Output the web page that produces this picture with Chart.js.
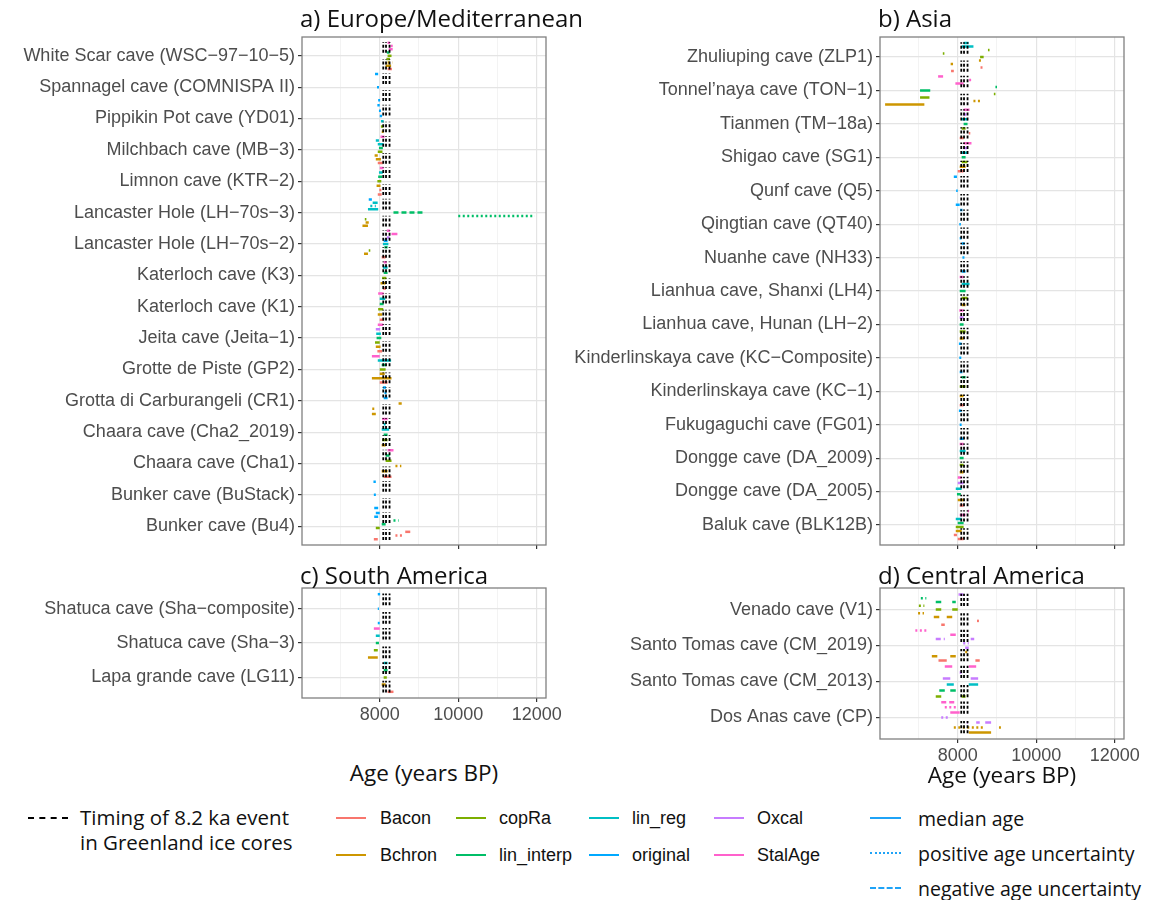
<!DOCTYPE html>
<html>
<head>
<meta charset="utf-8">
<script src="https://cdn.jsdelivr.net/npm/chart.js@4.4.1/dist/chart.umd.min.js"></script>
<style>
  body { margin: 0; background: #fff; }
  #page { position: relative; width: 1160px; height: 900px; overflow: hidden; font-family: "Liberation Sans", Arial, sans-serif; }
  canvas { position: absolute; }
  .title { position: absolute; font-family: "Open Sans", sans-serif; font-size: 24px; line-height: 26px; color: #111; white-space: nowrap; }
  .axis-title { position: absolute; font-family: "Open Sans", sans-serif; font-size: 22.5px; line-height: 26px; color: #111; white-space: nowrap; transform: translateX(-50%); }
  .key { position: absolute; height: 0; }
  .key-text { position: absolute; white-space: nowrap; color: #111; }
</style>
</head>
<body>
<div id="page">
  <canvas id="europe" width="580" height="560" style="left:0;top:0;width:580px;height:560px"></canvas>
  <canvas id="asia" width="600" height="560" style="left:560px;top:0;width:600px;height:560px"></canvas>
  <canvas id="southAmerica" width="580" height="190" style="left:0;top:560px;width:580px;height:190px"></canvas>
  <canvas id="centralAmerica" width="600" height="220" style="left:560px;top:560px;width:600px;height:220px"></canvas>

  <div class="title" style="left:300px;top:5px">a) Europe/Mediterranean</div>
  <div class="title" style="left:878px;top:5px">b) Asia</div>
  <div class="title" style="left:300px;top:562px">c) South America</div>
  <div class="title" style="left:878px;top:562px">d) Central America</div>

  <div class="axis-title" style="left:424px;top:760px">Age (years BP)</div>
  <div class="axis-title" style="left:1002px;top:762px">Age (years BP)</div>

  <div id="legend"></div>
</div>

<script>
// age models (legend order) and their ggplot hue colours
const methods = ['Bacon', 'Bchron', 'copRa', 'lin_interp', 'lin_reg', 'original', 'Oxcal', 'StalAge'];
const methodColors = ['#F8766D', '#CD9600', '#7CAE00', '#00BE67', '#00BFC4', '#00A9FF', '#C77CFF', '#FF61CC'];

// line types: m = median age, p = positive age uncertainty, n = negative age uncertainty
const lineTypes = ['m', 'p', 'n'];
const lineTypeLabels = ['median age', 'positive age uncertainty', 'negative age uncertainty'];

// timing of the 8.2 ka event in Greenland ice cores (years BP)
const eventAges = [8090, 8160, 8250];

const ageMin = 6020;
const ageMax = 12235;
const ageBreaks = [8000, 10000, 12000];
const ageMinorBreaks = [7000, 9000, 11000];

// caves listed top to bottom as they appear
const europeCaves = [
  'White Scar cave (WSC\u221297\u221210\u22125)', 'Spannagel cave (COMNISPA II)', 'Pippikin Pot cave (YD01)',
  'Milchbach cave (MB\u22123)', 'Limnon cave (KTR\u22122)', 'Lancaster Hole (LH\u221270s\u22123)',
  'Lancaster Hole (LH\u221270s\u22122)', 'Katerloch cave (K3)', 'Katerloch cave (K1)', 'Jeita cave (Jeita\u22121)',
  'Grotte de Piste (GP2)', 'Grotta di Carburangeli (CR1)', 'Chaara cave (Cha2_2019)', 'Chaara cave (Cha1)',
  'Bunker cave (BuStack)', 'Bunker cave (Bu4)'
];
const asiaCaves = [
  'Zhuliuping cave (ZLP1)', 'Tonnel\u2019naya cave (TON\u22121)', 'Tianmen (TM\u221218a)', 'Shigao cave (SG1)',
  'Qunf cave (Q5)', 'Qingtian cave (QT40)', 'Nuanhe cave (NH33)', 'Lianhua cave, Shanxi (LH4)',
  'Lianhua cave, Hunan (LH\u22122)', 'Kinderlinskaya cave (KC\u2212Composite)', 'Kinderlinskaya cave (KC\u22121)',
  'Fukugaguchi cave (FG01)', 'Dongge cave (DA_2009)', 'Dongge cave (DA_2005)', 'Baluk cave (BLK12B)'
];
const southAmericaCaves = ['Shatuca cave (Sha\u2212composite)', 'Shatuca cave (Sha\u22123)', 'Lapa grande cave (LG11)'];
const centralAmericaCaves = ['Venado cave (V1)', 'Santo Tomas cave (CM_2019)', 'Santo Tomas cave (CM_2013)', 'Dos Anas cave (CP)'];

// event segments: [cave index, age model, line type, from age, to age]
const europeMarks = [
  [0, 'StalAge', 'm', 8230, 8330], [0, 'StalAge', 'p', 8280, 8380], [0, 'StalAge', 'n', 8200, 8260],
  [0, 'lin_interp', 'm', 8180, 8250], [0, 'copRa', 'm', 8170, 8260], [0, 'copRa', 'n', 8200, 8300],
  [0, 'Bchron', 'm', 8150, 8290], [0, 'Bchron', 'p', 8200, 8320], [0, 'Bacon', 'm', 8200, 8310],
  [1, 'original', 'm', 7960, 8010], [1, 'original', 'p', 7930, 7990], [1, 'original', 'n', 7880, 7960],
  [2, 'original', 'm', 8000, 8060], [2, 'original', 'p', 7980, 8040], [2, 'original', 'n', 7940, 8000],
  [2, 'lin_reg', 'm', 8030, 8100], [2, 'copRa', 'm', 8030, 8090], [2, 'Bchron', 'm', 8050, 8100],
  [3, 'StalAge', 'm', 8020, 8120], [3, 'lin_reg', 'm', 7950, 8100], [3, 'lin_reg', 'n', 7900, 7980],
  [3, 'lin_interp', 'm', 7980, 8080], [3, 'copRa', 'm', 7950, 8070], [3, 'Bchron', 'm', 7900, 8030],
  [3, 'Bchron', 'n', 7870, 7950], [3, 'Bacon', 'm', 7950, 8080],
  [4, 'StalAge', 'm', 8000, 8100], [4, 'lin_reg', 'm', 7980, 8080], [4, 'lin_interp', 'm', 7960, 8060],
  [4, 'copRa', 'm', 7940, 8040], [4, 'Bchron', 'm', 7920, 8020], [4, 'Bacon', 'm', 7950, 8050],
  [4, 'Bacon', 'p', 7990, 8060],
  [5, 'lin_reg', 'm', 7700, 7960], [5, 'lin_reg', 'p', 7760, 7900], [5, 'lin_reg', 'n', 7820, 7980],
  [5, 'original', 'm', 7720, 7800], [5, 'lin_interp', 'n', 8350, 9100], [5, 'lin_interp', 'p', 10000, 11950],
  [5, 'copRa', 'm', 7620, 7660], [5, 'Bchron', 'm', 7560, 7700], [5, 'Bchron', 'n', 7640, 7720],
  [6, 'StalAge', 'm', 8300, 8450], [6, 'StalAge', 'n', 8180, 8260], [6, 'Oxcal', 'm', 8180, 8250],
  [6, 'original', 'm', 8100, 8200], [6, 'lin_reg', 'm', 8080, 8220], [6, 'lin_interp', 'm', 8120, 8200],
  [6, 'copRa', 'm', 7720, 7760], [6, 'Bchron', 'm', 7600, 7700], [6, 'Bacon', 'm', 8050, 8150],
  [7, 'StalAge', 'm', 8100, 8180], [7, 'lin_reg', 'm', 8080, 8200], [7, 'lin_interp', 'm', 8100, 8200],
  [7, 'copRa', 'm', 8060, 8170], [7, 'Bchron', 'm', 8020, 8150], [7, 'Bacon', 'm', 8080, 8160],
  [8, 'StalAge', 'm', 7960, 8100], [8, 'lin_reg', 'm', 8000, 8140], [8, 'lin_interp', 'm', 8000, 8100],
  [8, 'copRa', 'm', 7960, 8090], [8, 'Bchron', 'm', 7950, 8060], [8, 'Bacon', 'm', 8000, 8110],
  [9, 'StalAge', 'm', 7950, 8090], [9, 'Oxcal', 'm', 7900, 8010], [9, 'lin_reg', 'm', 7910, 8030],
  [9, 'lin_interp', 'm', 7920, 8040], [9, 'copRa', 'm', 7880, 8000], [9, 'Bchron', 'm', 7900, 8020],
  [9, 'Bacon', 'm', 7940, 8060],
  [10, 'StalAge', 'm', 7800, 8000], [10, 'lin_reg', 'm', 7950, 8290], [10, 'lin_interp', 'm', 8050, 8150],
  [10, 'copRa', 'm', 8000, 8150], [10, 'Bchron', 'm', 7800, 8300], [10, 'Bchron', 'n', 8000, 8200],
  [10, 'Bacon', 'm', 8000, 8200],
  [11, 'original', 'm', 8100, 8200], [11, 'original', 'p', 8120, 8180], [11, 'original', 'n', 8080, 8160],
  [11, 'Bchron', 'm', 7800, 7900], [11, 'Bchron', 'p', 7810, 7880], [11, 'Bchron', 'n', 8480, 8560],
  [12, 'StalAge', 'm', 8060, 8200], [12, 'lin_reg', 'm', 8050, 8240], [12, 'lin_reg', 'p', 8100, 8200],
  [12, 'lin_interp', 'm', 8100, 8200], [12, 'copRa', 'm', 8060, 8200], [12, 'Bchron', 'm', 8050, 8150],
  [13, 'StalAge', 'm', 8200, 8350], [13, 'lin_interp', 'm', 8150, 8250], [13, 'copRa', 'm', 8150, 8300],
  [13, 'Bchron', 'm', 8050, 8200], [13, 'Bchron', 'p', 8400, 8550], [13, 'Bacon', 'm', 8100, 8300],
  [14, 'original', 'm', 7860, 7960], [14, 'original', 'p', 7850, 7920], [14, 'original', 'n', 7840, 7900],
  [15, 'original', 'm', 7860, 7960], [15, 'original', 'n', 7900, 8000], [15, 'lin_interp', 'm', 8050, 8150],
  [15, 'lin_interp', 'p', 8350, 8480], [15, 'copRa', 'm', 7900, 8000], [15, 'Bacon', 'm', 7850, 7950],
  [15, 'Bacon', 'p', 8400, 8600], [15, 'Bacon', 'n', 8650, 8780]
];

const asiaMarks = [
  [0, 'lin_reg', 'm', 8100, 8400], [0, 'lin_reg', 'n', 8150, 8280], [0, 'copRa', 'p', 7620, 7660],
  [0, 'copRa', 'm', 8570, 8660], [0, 'copRa', 'n', 8770, 8810], [0, 'Bchron', 'm', 7820, 7880],
  [0, 'Bchron', 'p', 8540, 8610], [0, 'Bacon', 'm', 7830, 7900], [0, 'Bacon', 'p', 8580, 8660],
  [1, 'StalAge', 'm', 7940, 8150], [1, 'StalAge', 'p', 8290, 8400], [1, 'StalAge', 'n', 7500, 7680],
  [1, 'lin_interp', 'm', 7040, 7300], [1, 'lin_interp', 'p', 8960, 9000], [1, 'copRa', 'm', 7040, 7280],
  [1, 'copRa', 'p', 8920, 8960], [1, 'Bchron', 'm', 6150, 7150], [1, 'Bchron', 'p', 8400, 8570],
  [2, 'StalAge', 'm', 8150, 8300], [2, 'Oxcal', 'm', 8150, 8220], [2, 'lin_reg', 'm', 8100, 8260],
  [2, 'lin_interp', 'm', 8150, 8250], [2, 'copRa', 'm', 8100, 8200], [2, 'Bacon', 'm', 8050, 8150],
  [2, 'Bacon', 'p', 8280, 8320],
  [3, 'StalAge', 'm', 8150, 8350], [3, 'Oxcal', 'm', 8150, 8250], [3, 'lin_reg', 'm', 8100, 8250],
  [3, 'lin_interp', 'm', 8100, 8200], [3, 'copRa', 'm', 8100, 8250], [3, 'Bchron', 'm', 8050, 8200],
  [3, 'Bacon', 'm', 8000, 8150],
  [4, 'original', 'm', 7950, 8050], [4, 'original', 'p', 7960, 8000], [4, 'original', 'n', 7900, 7980],
  [5, 'original', 'm', 8050, 8100], [5, 'original', 'p', 8040, 8080], [5, 'original', 'n', 8060, 8120],
  [6, 'original', 'm', 8100, 8200], [6, 'original', 'p', 8120, 8220], [6, 'original', 'n', 8100, 8180],
  [7, 'StalAge', 'm', 8050, 8150], [7, 'lin_reg', 'm', 8100, 8300], [7, 'lin_interp', 'm', 8050, 8200],
  [7, 'copRa', 'm', 8100, 8250], [7, 'Bchron', 'm', 8100, 8200],
  [8, 'StalAge', 'm', 8040, 8150], [8, 'Oxcal', 'm', 8050, 8150], [8, 'lin_interp', 'm', 8050, 8150],
  [8, 'copRa', 'm', 8050, 8200], [8, 'Bchron', 'm', 8050, 8150],
  [9, 'original', 'm', 8050, 8120], [9, 'original', 'p', 8040, 8100], [9, 'original', 'n', 8030, 8100],
  [10, 'lin_interp', 'm', 8100, 8200], [10, 'copRa', 'm', 8050, 8200], [10, 'Bchron', 'm', 8050, 8150],
  [10, 'Bacon', 'm', 8050, 8150],
  [11, 'original', 'm', 8050, 8150], [11, 'original', 'p', 8050, 8100], [11, 'original', 'n', 8030, 8100],
  [12, 'StalAge', 'm', 8050, 8150], [12, 'lin_reg', 'm', 8050, 8200], [12, 'lin_interp', 'm', 8050, 8150],
  [12, 'copRa', 'm', 8050, 8150], [12, 'Bchron', 'm', 8050, 8150],
  [13, 'StalAge', 'm', 8000, 8100], [13, 'Oxcal', 'm', 8000, 8150], [13, 'lin_reg', 'm', 7950, 8100],
  [13, 'lin_interp', 'm', 7980, 8080], [13, 'Bchron', 'm', 8000, 8150], [13, 'Bacon', 'm', 8050, 8150],
  [14, 'StalAge', 'm', 8050, 8200], [14, 'StalAge', 'p', 8250, 8290], [14, 'lin_reg', 'm', 7950, 8100],
  [14, 'lin_interp', 'm', 8000, 8150], [14, 'copRa', 'm', 7950, 8150], [14, 'Bchron', 'm', 7950, 8100],
  [14, 'Bacon', 'm', 8000, 8150], [14, 'Bacon', 'n', 7900, 7980]
];

const southAmericaMarks = [
  [0, 'original', 'm', 7950, 8000], [0, 'original', 'p', 7950, 7980], [0, 'original', 'n', 7950, 8010],
  [1, 'StalAge', 'm', 7850, 8000], [1, 'lin_reg', 'm', 7900, 8000], [1, 'lin_interp', 'm', 7900, 7980],
  [1, 'copRa', 'm', 7850, 7950], [1, 'Bchron', 'm', 7700, 7950],
  [2, 'lin_reg', 'm', 8100, 8200], [2, 'lin_interp', 'm', 8100, 8200], [2, 'copRa', 'm', 8100, 8180],
  [2, 'Bchron', 'm', 8050, 8150], [2, 'Bacon', 'm', 8200, 8350]
];

const centralAmericaMarks = [
  [0, 'Oxcal', 'm', 8020, 8140], [0, 'lin_interp', 'm', 7440, 7580], [0, 'lin_interp', 'm', 7860, 7950],
  [0, 'lin_interp', 'p', 7060, 7200], [0, 'copRa', 'm', 7440, 7580], [0, 'copRa', 'm', 7860, 8000],
  [0, 'copRa', 'p', 7010, 7150], [0, 'Bchron', 'm', 7390, 7530], [0, 'Bchron', 'm', 7720, 7860],
  [0, 'Bchron', 'p', 6990, 7140], [0, 'Bacon', 'm', 7580, 7670], [0, 'Bacon', 'p', 8490, 8540],
  [1, 'StalAge', 'm', 7810, 7950], [1, 'StalAge', 'p', 6920, 7200], [1, 'Oxcal', 'm', 8190, 8280],
  [1, 'Oxcal', 'p', 8140, 8280], [1, 'Oxcal', 'n', 7440, 7670], [1, 'Oxcal', 'n', 8330, 8420],
  [1, 'Bchron', 'm', 7340, 7480], [1, 'Bchron', 'm', 7810, 7950], [1, 'Bchron', 'p', 8190, 8280],
  [1, 'Bacon', 'm', 7510, 7720], [1, 'Bacon', 'm', 8450, 8560],
  [2, 'StalAge', 'm', 7670, 7860], [2, 'StalAge', 'm', 8280, 8470], [2, 'Oxcal', 'm', 7620, 7810],
  [2, 'Oxcal', 'm', 8330, 8520], [2, 'Oxcal', 'p', 8050, 8150], [2, 'lin_reg', 'm', 7720, 7900],
  [2, 'lin_reg', 'm', 8280, 8520], [2, 'lin_interp', 'm', 7530, 7670], [2, 'lin_interp', 'm', 7810, 7950],
  [2, 'copRa', 'm', 7440, 7580], [2, 'copRa', 'm', 8100, 8200],
  [3, 'StalAge', 'm', 7810, 8050], [3, 'StalAge', 'p', 7670, 8000], [3, 'StalAge', 'n', 7580, 7950],
  [3, 'Oxcal', 'm', 8230, 8260], [3, 'Oxcal', 'm', 8470, 8560], [3, 'Oxcal', 'm', 8700, 8850],
  [3, 'Oxcal', 'p', 7580, 7810], [3, 'Bchron', 'm', 8280, 8850], [3, 'Bchron', 'p', 7900, 8660],
  [3, 'Bchron', 'p', 9050, 9100]
];

const dashes = { m: [], p: [2, 2.5], n: [5, 3] };

// panel border drawn on top, like theme_bw
const panelBorder = {
  id: 'panelBorder',
  afterDraw(chart) {
    const { ctx, chartArea: a } = chart;
    ctx.save();
    ctx.strokeStyle = '#808080';
    ctx.lineWidth = 1.3;
    ctx.strokeRect(a.left, a.top, a.right - a.left, a.bottom - a.top);
    ctx.restore();
  }
};

function eventDataset(n) {
  const data = [];
  for (let r = 1; r <= n; r++) {
    eventAges.forEach(a => {
      data.push({ x: a, y: r - 0.44 }, { x: a, y: r - 0.1 }, { x: a, y: null });
      data.push({ x: a, y: r + 0.1 }, { x: a, y: r + 0.44 }, { x: a, y: null });
    });
  }
  return { data, borderColor: '#000', borderWidth: 1.8, borderDash: [3, 2] };
}

function markDatasets(caves, marks) {
  const n = caves.length;
  const key = (m, t) => methods.indexOf(m) * 3 + lineTypes.indexOf(t);
  // dodge: spread the model/line type combinations present in a cave over its row
  const slots = caves.map(() => []);
  marks.forEach(([c, m, t]) => {
    const k = key(m, t);
    if (!slots[c].includes(k)) slots[c].push(k);
  });
  slots.forEach(s => s.sort((a, b) => a - b));
  const groups = {};
  marks.forEach(([c, m, t, from, to]) => {
    const k = key(m, t);
    const s = slots[c];
    const off = s.length === 1 ? 0 : -0.42 + 0.84 * s.indexOf(k) / (s.length - 1);
    const y = n - c + off;
    if (!groups[k]) {
      groups[k] = {
        data: [],
        borderColor: methodColors[methods.indexOf(m)],
        borderWidth: 2.5,
        borderDash: dashes[t]
      };
    }
    groups[k].data.push({ x: from, y }, { x: to, y }, { x: to, y: null });
  });
  return Object.keys(groups).sort((a, b) => a - b).map(k => groups[k]);
}

function makePanel(id, caves, marks, showAges, geom) {
  const n = caves.length;
  new Chart(document.getElementById(id), {
    type: 'line',
    data: { datasets: [eventDataset(n), ...markDatasets(caves, marks)] },
    options: {
      responsive: false,
      animation: false,
      devicePixelRatio: 1,
      layout: { padding: geom.padding },
      plugins: { legend: { display: false }, tooltip: { enabled: false } },
      elements: {
        point: { radius: 0, hoverRadius: 0 },
        line: { tension: 0, borderCapStyle: 'butt' }
      },
      scales: {
        x: {
          type: 'linear',
          bounds: 'data',
          min: ageMin,
          max: ageMax,
          afterBuildTicks: s => {
            s.ticks = [...ageMinorBreaks, ...ageBreaks].sort((a, b) => a - b).map(v => ({ value: v }));
          },
          afterFit: s => { s.height = geom.xAxisHeight; },
          ticks: {
            autoSkip: false,
            maxRotation: 0,
            padding: 2,
            color: '#4D4D4D',
            font: { family: 'Liberation Sans', size: 18 },
            callback: v => (showAges && ageBreaks.includes(v)) ? String(v) : ''
          },
          grid: {
            color: c => ageBreaks.includes(c.tick.value) ? '#E4E4E4' : '#F0F0F0',
            lineWidth: c => ageBreaks.includes(c.tick.value) ? 1.2 : 0.8,
            tickColor: c => ageBreaks.includes(c.tick.value) ? '#333333' : 'rgba(0,0,0,0)',
            tickLength: 4,
            tickWidth: 1.2
          },
          border: { display: false }
        },
        y: {
          type: 'linear',
          bounds: 'data',
          min: 0.4,
          max: n + 0.6,
          afterBuildTicks: s => { s.ticks = caves.map((_, i) => ({ value: n - i })); },
          afterFit: s => { s.width = geom.yAxisWidth; },
          ticks: {
            autoSkip: false,
            padding: 3,
            color: '#4D4D4D',
            font: { family: 'Liberation Sans', size: 18 },
            callback: v => caves[n - v]
          },
          grid: { color: '#E4E4E4', lineWidth: 1.2, tickColor: '#333333', tickLength: 4, tickWidth: 1.2 },
          border: { display: false }
        }
      }
    },
    plugins: [panelBorder]
  });
}

makePanel('europe', europeCaves, europeMarks, false,
  { padding: { left: 0, right: 34, top: 37, bottom: 0 }, yAxisWidth: 302, xAxisHeight: 15 });
makePanel('asia', asiaCaves, asiaMarks, false,
  { padding: { left: 0, right: 36, top: 37, bottom: 0 }, yAxisWidth: 320, xAxisHeight: 15 });
makePanel('southAmerica', southAmericaCaves, southAmericaMarks, true,
  { padding: { left: 0, right: 34, top: 28, bottom: 0 }, yAxisWidth: 302, xAxisHeight: 52 });
makePanel('centralAmerica', centralAmericaCaves, centralAmericaMarks, true,
  { padding: { left: 0, right: 36, top: 28, bottom: 0 }, yAxisWidth: 320, xAxisHeight: 41 });

// legend
const legend = document.getElementById('legend');
function addKey(left, top, width, style) {
  const d = document.createElement('div');
  d.className = 'key';
  d.style.cssText = `left:${left}px;top:${top}px;width:${width}px;border-top:${style}`;
  legend.appendChild(d);
}
function addText(left, top, text, font, size) {
  const d = document.createElement('div');
  d.className = 'key-text';
  d.style.cssText = `left:${left}px;top:${top}px;font-family:${font};font-size:${size}px;line-height:25px`;
  d.innerHTML = text;
  legend.appendChild(d);
}

addKey(28, 817, 40, '2px dashed #000');
addText(80, 805, 'Timing of 8.2 ka event<br>in Greenland ice cores', '"Open Sans"', 20.5);

const keyColumns = [[336, 380], [456, 499], [589, 632], [714, 757]];
const keyRows = [818, 855];
methods.forEach((m, i) => {
  const [lineX, textX] = keyColumns[Math.floor(i / 2)];
  const y = keyRows[i % 2];
  addKey(lineX, y - 1, 30, `2px solid ${methodColors[i]}`);
  addText(textX, y - 12.5, m, '"Liberation Sans"', 18);
});

const typeStyles = ['solid', 'dotted', 'dashed'];
const typeRows = [818, 853, 888];
lineTypeLabels.forEach((label, i) => {
  addKey(870, typeRows[i] - 1, 31, `2.5px ${typeStyles[i]} #1FA3F7`);
  addText(918, typeRows[i] - 12.5, label, '"Open Sans"', 19.5);
});
</script>
</body>
</html>
